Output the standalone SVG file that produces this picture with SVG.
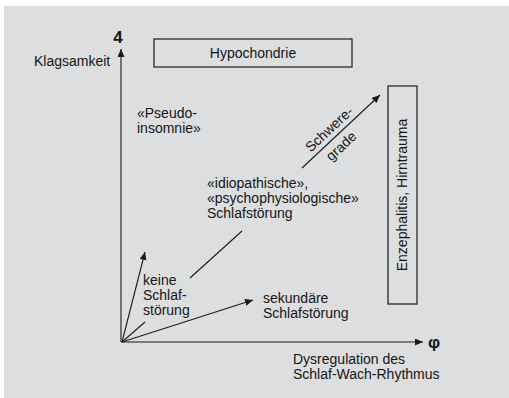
<svg xmlns="http://www.w3.org/2000/svg" width="509" height="398" viewBox="0 0 509 398">
<defs>
<style>
.t{font-family:"Liberation Sans",Arial,Helvetica,sans-serif;font-size:14px;fill:#151515}
.sym{font-family:"Liberation Sans",Arial,sans-serif;font-size:17px;font-weight:bold;fill:#151515}
.ln{stroke:#1a1a1a;stroke-width:1.1;fill:none}
.box{fill:none;stroke:#2a2a2a;stroke-width:1.3}
</style>
<marker id="ah" markerUnits="userSpaceOnUse" markerWidth="10" markerHeight="8" refX="8" refY="3.5" orient="auto">
<path d="M0,0 L8,3.5 L0,7 Z" fill="#1a1a1a"/>
</marker>
</defs>
<rect x="0" y="0" width="509" height="398" fill="#ffffff"/>
<rect x="4" y="6" width="505" height="392" fill="#dddee0"/>

<g id="connectors">
<line class="ln" x1="121" y1="342" x2="121" y2="49" marker-end="url(#ah)"/>
<line class="ln" x1="121" y1="342" x2="423" y2="342" marker-end="url(#ah)"/>
<line class="ln" x1="122" y1="342" x2="145" y2="252" marker-end="url(#ah)"/>
<line class="ln" x1="122" y1="342" x2="253" y2="300" marker-end="url(#ah)"/>
<line class="ln" x1="122" y1="342" x2="145" y2="322"/>
<line class="ln" x1="190" y1="278" x2="242" y2="231"/>
<line class="ln" x1="302" y1="168" x2="380" y2="95" marker-end="url(#ah)"/>
</g>

<g id="axis-y">
<text class="sym" x="118" y="43" text-anchor="middle">4</text>
<text class="t" x="34" y="66">Klagsamkeit</text>
</g>
<g id="axis-x">
<text class="sym" x="434" y="348" text-anchor="middle">φ</text>
<text class="t" x="293" y="364">Dysregulation des</text>
<text class="t" x="293" y="379">Schlaf-Wach-Rhythmus</text>
</g>

<g id="hypochondrie">
<rect class="box" x="154" y="39" width="198" height="28"/>
<text class="t" x="253" y="58" text-anchor="middle">Hypochondrie</text>
</g>

<g id="enzephalitis">
<rect class="box" x="388" y="86" width="29" height="218"/>
<text class="t" transform="translate(407,195) rotate(-90)" text-anchor="middle">Enzephalitis, Hirntrauma</text>
</g>

<g id="pseudoinsomnie">
<text class="t" x="137" y="118">«Pseudo-</text>
<text class="t" x="137" y="133">insomnie»</text>
</g>

<g id="schweregrade">
<text class="t" transform="translate(329,129) rotate(-43)" y="5" text-anchor="middle">Schwere-</text>
<text class="t" transform="translate(341,146) rotate(-43)" y="5" text-anchor="middle">grade</text>
</g>

<g id="idiopathische">
<text class="t" x="207" y="188">«idiopathische»,</text>
<text class="t" x="207" y="203">«psychophysiologische»</text>
<text class="t" x="207" y="218">Schlafstörung</text>
</g>

<g id="keine">
<text class="t" x="143" y="285">keine</text>
<text class="t" x="143" y="300">Schlaf-</text>
<text class="t" x="143" y="315">störung</text>
</g>

<g id="sekundaere">
<text class="t" x="263" y="303">sekundäre</text>
<text class="t" x="263" y="318">Schlafstörung</text>
</g>
</svg>
